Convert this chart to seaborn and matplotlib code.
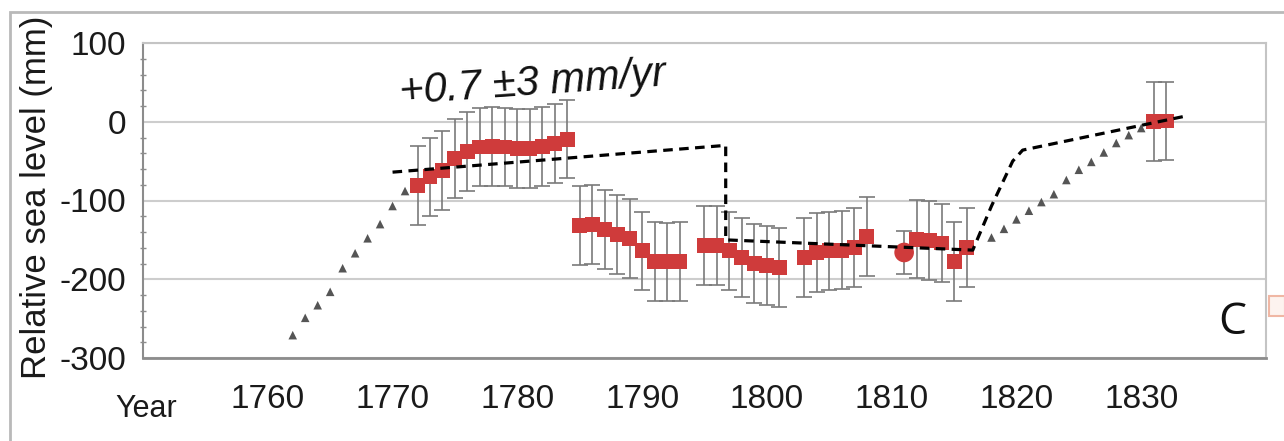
import numpy as np
import pandas as pd
import matplotlib
matplotlib.use("Agg")
import matplotlib.pyplot as plt
from matplotlib.patches import Rectangle
from matplotlib.ticker import MultipleLocator
import seaborn as sns

# Tide-gauge style reconstruction: annual means (mm) with uncertainty
obs_years = [1772, 1773, 1774, 1775, 1776, 1777, 1778, 1779, 1780, 1781, 1782, 1783, 1784,
             1785, 1786, 1787, 1788, 1789, 1790, 1791, 1792, 1793,
             1795, 1796, 1797, 1798, 1799, 1800, 1801,
             1803, 1804, 1805, 1806, 1807, 1808,
             1812, 1813, 1814, 1815, 1816,
             1831, 1832]
obs_level = [-81, -70, -62, -47, -38, -32, -31, -32, -34, -34, -31, -28, -22,
             -132, -130, -137, -143, -148, -164, -177, -178, -177,
             -157, -157, -164, -172, -180, -183, -185,
             -172, -166, -164, -163, -160, -146,
             -149, -151, -154, -177, -160,
             0, 1]
obs_err = [50] * len(obs_years)

# Single benchmark reading
bench_year = [1811]
bench_level = [-166]
bench_err = [27]

# Modelled trend (triangles)
model_years = [1762, 1763, 1764, 1765, 1766, 1767, 1768, 1769, 1770, 1771,
               1818, 1819, 1820, 1821, 1822, 1823, 1824, 1825, 1826, 1827, 1828, 1829, 1830]
model_level = [-271, -249, -233, -216, -186, -167, -148, -130, -107, -88,
               -147, -136, -124, -113, -102, -92, -74, -61, -51, -39, -27, -17, -8]

# Piecewise fit (dashed)
fit_years = [1770, 1796.7, 1796.7, 1816.5, 1818.0, 1819.7, 1820.5, 1833.5]
fit_level = [-64, -30, -150, -163, -107, -50, -36, 7]

rate_label = "+0.7 \u00b13 mm/yr"
panel_label = "C"

sns.set_theme(style="white")
plt.rcParams["font.family"] = ["Liberation Sans", "DejaVu Sans"]
plt.rcParams["axes.unicode_minus"] = False

fig = plt.figure(figsize=(12.84, 4.41), dpi=100)
fig.patch.set_facecolor("white")
ax = fig.add_axes([143 / 1284, 83 / 441, 1123 / 1284, 315 / 441])

red = "#cf3b3b"
grey_bar = "#7a7a7a"

# Error bars
ax.errorbar(obs_years, obs_level, yerr=obs_err, fmt="none", ecolor=grey_bar,
            elinewidth=1.2, capsize=5.5, capthick=1.2, zorder=2)
ax.errorbar(bench_year, bench_level, yerr=bench_err, fmt="none", ecolor=grey_bar,
            elinewidth=1.2, capsize=5.5, capthick=1.2, zorder=2)

# Model triangles
sns.scatterplot(x=model_years, y=model_level, marker="^", s=38, color="#555555",
                edgecolor="none", ax=ax, zorder=3)

# Observations
sns.scatterplot(x=obs_years, y=obs_level, marker="s", s=115, color=red,
                edgecolor="none", ax=ax, zorder=4)
sns.scatterplot(x=bench_year, y=bench_level, marker="o", s=200, color=red,
                edgecolor="none", ax=ax, zorder=4)

# Piecewise fit
fit = pd.DataFrame({"year": fit_years, "level": fit_level})
sns.lineplot(data=fit, x="year", y="level", sort=False, estimator=None,
             color="black", linewidth=2.3, ax=ax, zorder=5)
ax.lines[-1].set_dashes((3.0, 2.0))

ax.set_xlim(1750, 1840)
ax.set_ylim(-300, 100)
ax.set_xticks([1760, 1770, 1780, 1790, 1800, 1810, 1820, 1830])
ax.xaxis.set_minor_locator(MultipleLocator(5))
ax.yaxis.set_major_locator(MultipleLocator(100))
ax.yaxis.set_minor_locator(MultipleLocator(20))

ax.grid(axis="y", which="major", color="#cdcdcd", linewidth=1.5, zorder=0)
ax.set_axisbelow(True)
for side in ["top", "right"]:
    ax.spines[side].set_color("#c4c4c4")
    ax.spines[side].set_linewidth(1.5)
ax.spines["left"].set_color("#8c8c8c")
ax.spines["left"].set_linewidth(1.5)
ax.spines["bottom"].set_color("#8c8c8c")
ax.spines["bottom"].set_linewidth(2.0)

ax.tick_params(axis="x", which="both", direction="inout", length=8, width=1.2,
               color="#8c8c8c", labelsize=24, pad=15, labelcolor="#1a1a1a")
ax.tick_params(axis="x", which="minor", length=7)
ax.tick_params(axis="y", which="major", direction="out", length=4, width=1.2,
               color="#8c8c8c", labelsize=24, pad=8, labelcolor="#1a1a1a")
ax.tick_params(axis="y", which="minor", direction="inout", length=5, width=1.0,
               color="#8c8c8c", left=True)

ax.set_ylabel("Relative sea level (mm)", fontsize=25, color="#1a1a1a")
ax.yaxis.set_label_coords(-0.080, 0.51)
ax.set_xlabel("Year", fontsize=22, color="#1a1a1a")
ax.xaxis.set_label_coords(0.003, -0.115)

ax.text(1781.2, 48, rate_label, fontsize=30, style="italic", color="#111111",
        rotation=4, rotation_mode="anchor", ha="center", va="center")
ax.text(0.970, 0.111, panel_label, transform=ax.transAxes, fontsize=32,
        family="Open Sans", color="#111111", ha="center", va="center")

# Outer frame and selection handle
fig.add_artist(Rectangle((10 / 1284, -0.2), 1.2, (441 - 12) / 441 + 0.2,
                         transform=fig.transFigure, fill=False,
                         edgecolor="#b9b9b9", linewidth=2.0))
fig.add_artist(Rectangle((1269 / 1284, 1 - 316 / 441), 16 / 1284, 20 / 441,
                         transform=fig.transFigure, facecolor="#fdf3ef",
                         edgecolor="#f0b7a4", linewidth=1.5))

fig.savefig("out.png", dpi=100)
